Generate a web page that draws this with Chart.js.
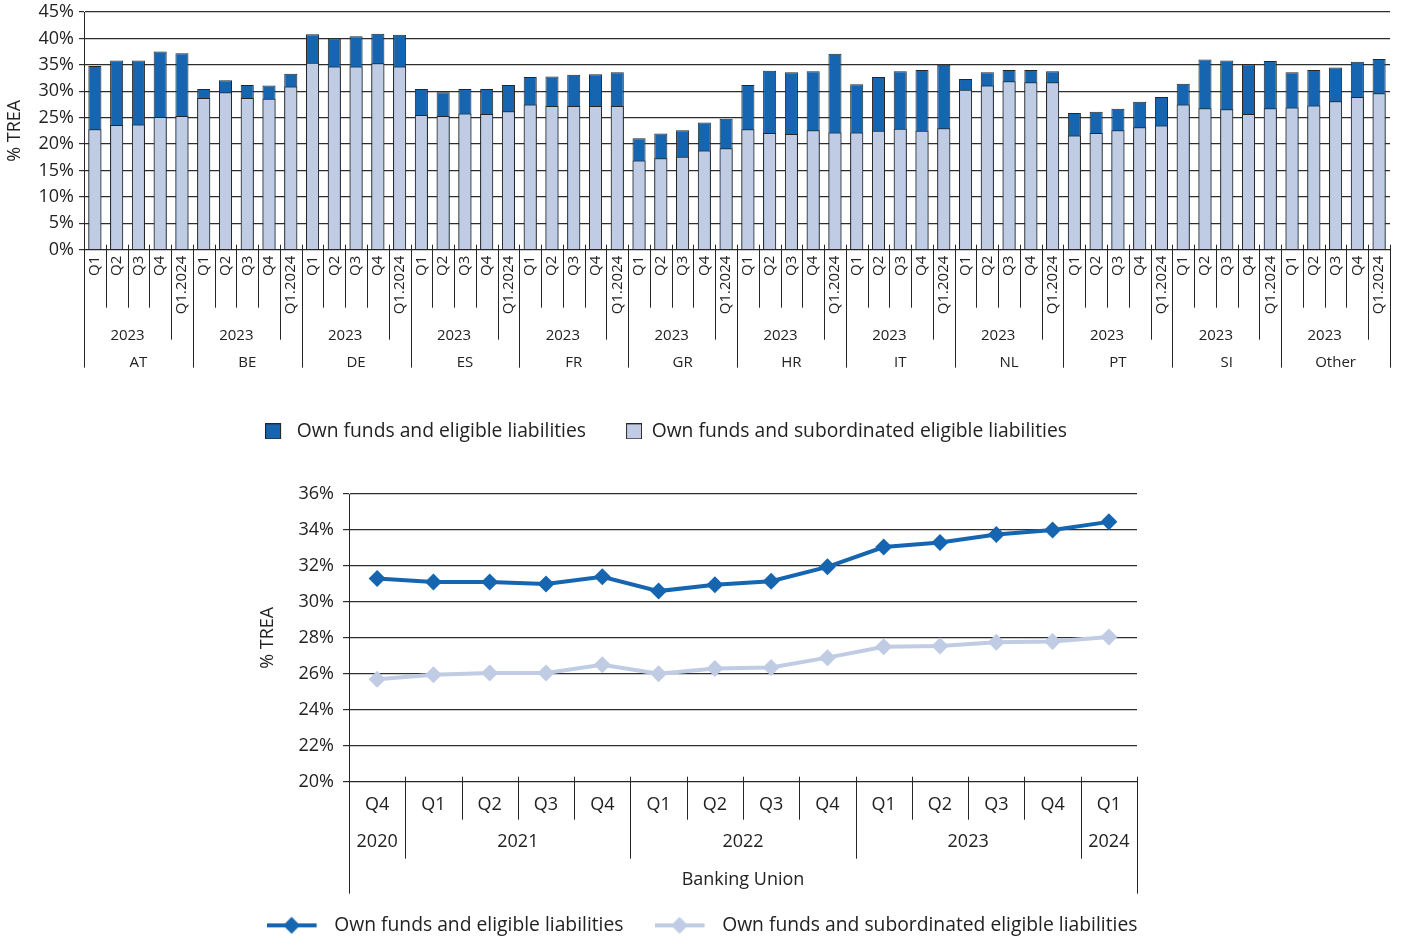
<!DOCTYPE html>
<html><head><meta charset="utf-8">
<script src="https://cdn.jsdelivr.net/npm/chart.js@4.4.1/dist/chart.umd.min.js"></script>
<style>
html,body{margin:0;padding:0;background:#fff;overflow:hidden;width:1402px;height:939px;}
#w1{position:absolute;left:0;top:0;width:1402px;height:451px;}
#w2{position:absolute;left:0;top:471px;width:1402px;height:474px;}
</style></head><body>
<div id="w1"><canvas id="c1"></canvas></div>
<div id="w2"><canvas id="c2"></canvas></div>
<script>
// ---------- data: top chart ----------
const countries = ['AT','BE','DE','ES','FR','GR','HR','IT','NL','PT','SI','Other'];
const quarterLabels = ['Q1','Q2','Q3','Q4','Q1.2024'];
const groupYear = '2023';
const ownFundsEligible = [
  34.8, 35.8, 35.8, 37.5, 37.2,   // AT
  30.4, 32.1, 31.2, 31.1, 33.3,   // BE
  40.8, 40.0, 40.4, 40.9, 40.7,   // DE
  30.4, 29.8, 30.4, 30.4, 31.2,   // ES
  32.7, 32.8, 33.1, 33.2, 33.6,   // FR
  21.1, 22.0, 22.6, 24.1, 24.8,   // GR
  31.2, 33.9, 33.6, 33.8, 37.1,   // HR
  31.3, 32.7, 33.8, 34.0, 35.0,   // IT
  32.3, 33.6, 34.0, 34.0, 33.8,   // NL
  25.9, 26.1, 26.7, 28.0, 28.9,   // PT
  31.4, 36.0, 35.8, 35.1, 35.7,   // SI
  33.6, 34.0, 34.5, 35.6, 36.1    // Other
];
const ownFundsSubordinated = [
  22.8, 23.6, 23.7, 25.1, 25.3,
  28.7, 29.8, 28.7, 28.6, 30.9,
  35.4, 34.7, 34.7, 35.3, 34.7,
  25.5, 25.3, 25.8, 25.7, 26.2,
  27.5, 27.2, 27.2, 27.2, 27.2,
  16.9, 17.3, 17.6, 18.8, 19.2,
  22.8, 22.1, 21.9, 22.6, 22.2,
  22.2, 22.5, 22.9, 22.5, 23.0,
  30.3, 31.1, 31.9, 31.7, 31.7,
  21.6, 22.1, 22.6, 23.2, 23.5,
  27.5, 26.8, 26.6, 25.7, 26.8,
  26.9, 27.3, 28.1, 28.9, 29.6
];
const topTicks = [0,5,10,15,20,25,30,35,40,45];

// ---------- data: bottom chart ----------
const buQuarters = ['Q4','Q1','Q2','Q3','Q4','Q1','Q2','Q3','Q4','Q1','Q2','Q3','Q4','Q1'];
const buYears = ['2020','2021','2022','2023','2024'];
const buYearSpan = [1,4,4,4,1];
const buGroupLabel = 'Banking Union';
const buEligible = [31.3, 31.1, 31.1, 31.0, 31.4, 30.6, 30.95, 31.15, 31.95, 33.05, 33.3, 33.75, 34.0, 34.45];
const buSubordinated = [25.7, 25.95, 26.05, 26.05, 26.5, 26.0, 26.3, 26.35, 26.9, 27.5, 27.55, 27.75, 27.8, 28.05];
const seriesNames = ['Own funds and eligible liabilities', 'Own funds and subordinated eligible liabilities'];
const yAxisTitle = '% TREA';

// ---------- styles ----------
const DARK = '#1565B0', LIGHT = '#C0CBE4', EDGE = '#262626', GRID = '#2e2e2e', TXT = '#222';
const FONT = "'Open Sans', sans-serif";
Chart.defaults.font.family = FONT;
Chart.defaults.color = TXT;

function vline(ctx, x, y1, y2) {
  const xx = Math.round(x) + 0.5;
  ctx.beginPath(); ctx.moveTo(xx, y1); ctx.lineTo(xx, y2); ctx.stroke();
}
function legendShift(left, right) {
  return { id: 'legendShift', beforeDraw(chart) {
    const lg = chart.legend; if (!lg) return;
    lg.left = left; lg.right = right; lg.width = right - left;
  }};
}

// legend images
function boxImg(color, off) {
  const c = document.createElement('canvas'); c.width = 22; c.height = 16;
  const g = c.getContext('2d');
  g.fillStyle = color; g.fillRect(off + 0.5, 0.5, 15, 15);
  g.strokeStyle = EDGE; g.lineWidth = 1; g.strokeRect(off + 0.5, 0.5, 15, 15);
  return c;
}
function lineImg(color) {
  const c = document.createElement('canvas'); c.width = 58; c.height = 20;
  const g = c.getContext('2d');
  g.strokeStyle = color; g.lineWidth = 4;
  g.beginPath(); g.moveTo(0, 10); g.lineTo(50, 10); g.stroke();
  g.fillStyle = color; g.beginPath();
  g.moveTo(25, 1.5); g.lineTo(33.5, 10); g.lineTo(25, 18.5); g.lineTo(16.5, 10); g.closePath(); g.fill();
  return c;
}

// ---------- top chart ----------
const labels1 = countries.flatMap(c => quarterLabels.map(q => c + ' ' + q));
const topAxis = {
  id: 'topAxis',
  afterDraw(chart) {
    const { ctx } = chart; const xs = chart.scales.x; const y0 = chart.chartArea.bottom;
    const n = labels1.length;
    const slot = xs.getPixelForValue(1) - xs.getPixelForValue(0);
    ctx.save(); ctx.strokeStyle = EDGE; ctx.lineWidth = 1;
    for (let i = 0; i <= n; i++) {
      const x = (i < n ? xs.getPixelForValue(i) : xs.getPixelForValue(n - 1) + slot) - slot / 2;
      const k = i % 5;
      const len = k === 0 ? 118 : (k === 4 ? 90 : 58);
      vline(ctx, x, y0 - 5, y0 + len);
    }
    ctx.fillStyle = TXT; ctx.textAlign = 'center'; ctx.textBaseline = 'middle';
    ctx.font = "15px " + FONT;
    countries.forEach((c, g) => {
      const s = g * 5;
      ctx.fillText(groupYear, (xs.getPixelForValue(s) + xs.getPixelForValue(s + 3)) / 2, y0 + 86);
      ctx.fillText(c, (xs.getPixelForValue(s) + xs.getPixelForValue(s + 4)) / 2, y0 + 113);
    });
    ctx.restore();
  }
};
const topImgs = [boxImg(DARK, 0), boxImg(LIGHT, 6)];
new Chart(document.getElementById('c1'), {
  type: 'bar',
  data: { labels: labels1, datasets: [
    { label: seriesNames[0], data: ownFundsEligible, backgroundColor: DARK, borderColor: EDGE, borderWidth: 1,
      grouped: false, order: 2, barPercentage: 0.6, categoryPercentage: 1 },
    { label: seriesNames[1], data: ownFundsSubordinated, backgroundColor: LIGHT, borderColor: EDGE, borderWidth: 1,
      grouped: false, order: 1, barPercentage: 0.6, categoryPercentage: 1 }
  ]},
  options: {
    animation: false, responsive: true, maintainAspectRatio: false,
    layout: { padding: { top: 12, right: 12, left: 0, bottom: 0 } },
    scales: {
      x: { grid: { display: false, drawTicks: false }, border: { display: true, color: EDGE, width: 1 },
           ticks: { autoSkip: false, maxRotation: 90, minRotation: 90, padding: 6, font: { size: 15 }, color: TXT,
                    callback: (v, i) => quarterLabels[i % 5] },
           afterFit: s => { s.height = 138; s.paddingLeft = 0; s.paddingRight = 0; } },
      y: { min: 0, max: 45, afterBuildTicks: s => { s.ticks = topTicks.map(v => ({ value: v })); },
           ticks: { callback: v => v + '%', font: { size: 18 }, padding: 5, color: TXT },
           grid: { color: GRID, lineWidth: 1.2, tickLength: 5 }, border: { color: EDGE, width: 1 },
           title: { display: true, text: yAxisTitle, font: { size: 18 }, color: TXT, padding: { top: 4, bottom: 4 } },
           afterFit: s => { s.width = 84; s.paddingTop = 0; s.paddingBottom = 0; } }
    },
    plugins: {
      tooltip: { enabled: false },
      legend: { position: 'bottom', labels: {
        usePointStyle: true, pointStyleWidth: 22, padding: 34, font: { size: 19.3 }, color: TXT,
        sort: (a, b) => a.datasetIndex - b.datasetIndex,
        generateLabels: chart => Chart.defaults.plugins.legend.labels.generateLabels(chart).map(it => { it.pointStyle = topImgs[it.datasetIndex]; return it; })
      } }
    }
  },
  plugins: [topAxis, legendShift(2, 1330)]
});

// ---------- bottom chart ----------
const buYearOf = []; buYears.forEach((y, k) => { for (let j = 0; j < buYearSpan[k]; j++) buYearOf.push(y); });
const labels2 = buQuarters.map((q, i) => q + ' ' + buYearOf[i]);
const botAxis = {
  id: 'botAxis',
  afterDraw(chart) {
    const { ctx } = chart; const xs = chart.scales.x; const y0 = chart.chartArea.bottom;
    const n = labels2.length;
    const slot = xs.getPixelForValue(1) - xs.getPixelForValue(0);
    const yearStarts = []; let acc = 0; buYearSpan.forEach(s => { yearStarts.push(acc); acc += s; });
    ctx.save(); ctx.strokeStyle = EDGE; ctx.lineWidth = 1;
    for (let i = 0; i <= n; i++) {
      const x = (i < n ? xs.getPixelForValue(i) : xs.getPixelForValue(n - 1) + slot) - slot / 2;
      const len = (i === 0 || i === n) ? 112 : (yearStarts.includes(i) ? 77 : 38);
      vline(ctx, x, y0 - 5, y0 + len);
    }
    ctx.fillStyle = TXT; ctx.textAlign = 'center'; ctx.textBaseline = 'middle';
    ctx.font = "18px " + FONT;
    buYears.forEach((y, k) => {
      const a = yearStarts[k], b = a + buYearSpan[k] - 1;
      ctx.fillText(y, (xs.getPixelForValue(a) + xs.getPixelForValue(b)) / 2, y0 + 60);
    });
    ctx.fillText(buGroupLabel, (xs.getPixelForValue(0) + xs.getPixelForValue(n - 1)) / 2, y0 + 98);
    ctx.restore();
  }
};
const botImgs = [lineImg(DARK), lineImg(LIGHT)];
function lineDs(label, data, color) {
  return { label, data, borderColor: color, backgroundColor: color, borderWidth: 4, tension: 0,
           pointStyle: 'rectRot', pointRadius: 8.5, pointBorderWidth: 0, pointBackgroundColor: color, pointBorderColor: color };
}
new Chart(document.getElementById('c2'), {
  type: 'line',
  data: { labels: labels2, datasets: [ lineDs(seriesNames[0], buEligible, DARK), lineDs(seriesNames[1], buSubordinated, LIGHT) ] },
  options: {
    animation: false, responsive: true, maintainAspectRatio: false,
    layout: { padding: { top: 23, right: 265, left: 0, bottom: 0 } },
    scales: {
      x: { offset: true, grid: { display: false, drawTicks: false }, border: { display: true, color: EDGE, width: 1 },
           ticks: { autoSkip: false, maxRotation: 0, minRotation: 0, padding: 12, font: { size: 18 }, color: TXT,
                    callback: (v, i) => buQuarters[i] },
           afterFit: s => { s.height = 103; } },
      y: { min: 20, max: 36, ticks: { stepSize: 2, callback: v => v + '%', font: { size: 18 }, padding: 9, color: TXT },
           grid: { color: GRID, lineWidth: 1.2, tickLength: 6 }, border: { color: EDGE, width: 1 },
           title: { display: true, text: yAxisTitle, font: { size: 18 }, color: TXT, padding: { top: 257, bottom: 4 } },
           afterFit: s => { s.width = 349; } }
    },
    plugins: {
      tooltip: { enabled: false },
      legend: { position: 'bottom', labels: {
        usePointStyle: true, pointStyleWidth: 58, padding: 31, font: { size: 19.3 }, color: TXT,
        generateLabels: chart => Chart.defaults.plugins.legend.labels.generateLabels(chart).map(it => { it.pointStyle = botImgs[it.datasetIndex]; return it; })
      } }
    }
  },
  plugins: [botAxis, legendShift(0, 1404)]
});
</script>
</body></html>
